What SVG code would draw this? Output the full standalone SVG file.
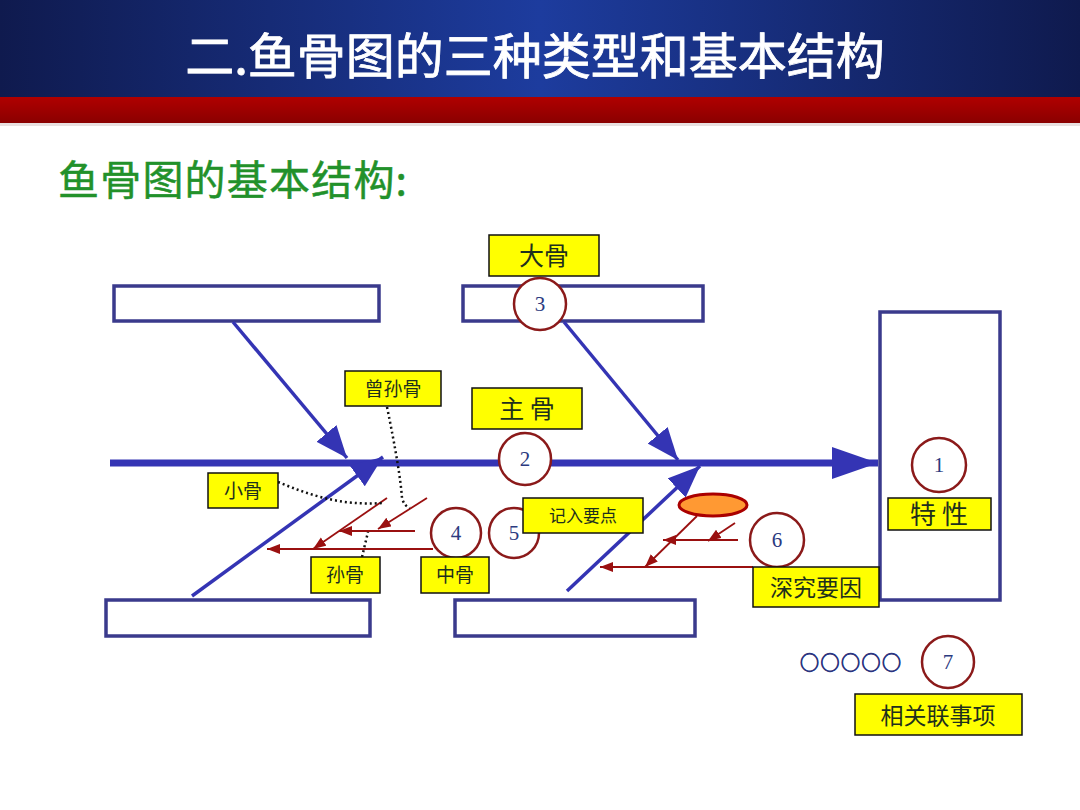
<svg xmlns="http://www.w3.org/2000/svg" width="1080" height="810" viewBox="0 0 1080 810">
<defs>
<linearGradient id="hdr" x1="0" y1="0" x2="1" y2="0">
<stop offset="0" stop-color="#0f1a4e"/>
<stop offset="0.5" stop-color="#1d3c9e"/>
<stop offset="1" stop-color="#0f1a4e"/>
</linearGradient>
<linearGradient id="red" x1="0" y1="0" x2="0" y2="1">
<stop offset="0" stop-color="#b00000"/>
<stop offset="1" stop-color="#8a0000"/>
</linearGradient>
<marker id="big" markerUnits="userSpaceOnUse" markerWidth="48" markerHeight="34" refX="46" refY="16" orient="auto">
<path d="M0,0 L46,16 L0,32 z" fill="#3434b4"/>
</marker>
<marker id="bone" markerUnits="userSpaceOnUse" markerWidth="34" markerHeight="28" refX="32" refY="13" orient="auto">
<path d="M0,0 L32,13 L0,26 z" fill="#3434b4"/>
</marker>
<marker id="sm" markerUnits="userSpaceOnUse" markerWidth="14" markerHeight="12" refX="13" refY="5" orient="auto">
<path d="M0,0 L13,5 L0,10 z" fill="#9a1010"/>
</marker>
<style>
.box{fill:#ffffff;stroke:#3a3a8c;stroke-width:3.5}
.spine{stroke:#3434b4;stroke-width:7;fill:none}
.bonel{stroke:#3434b4;stroke-width:3.5;fill:none}
.rl{stroke:#9a1010;stroke-width:1.8;fill:none}
.dot{stroke:#111;stroke-width:2.5;stroke-dasharray:2 3;fill:none}
.num{fill:#ffffff;stroke:#8b1a1a;stroke-width:2.5}
.numt{font-family:"Liberation Serif",serif;font-size:21px;fill:#2b3a80;text-anchor:middle}
.lab{fill:#ffff00;stroke:#111;stroke-width:1.5}
.labt{font-family:"Noto Sans CJK SC","Noto Sans",sans-serif;fill:#1e301d;text-anchor:middle}
</style>
</defs>
<rect x="0" y="0" width="1080" height="810" fill="#ffffff"/>
<g id="header">
<rect x="0" y="0" width="1080" height="98" fill="url(#hdr)"/>
<rect x="0" y="97" width="1080" height="26" fill="url(#red)"/>
<rect x="0" y="123" width="1080" height="3" fill="#e8e0e0"/>
<text x="535" y="74" font-family="'Noto Sans CJK SC',sans-serif" font-size="49" fill="#ffffff" stroke="#ffffff" stroke-width="0.8" text-anchor="middle">二.鱼骨图的三种类型和基本结构</text>
</g>
<g id="subtitle">
<text x="58" y="195" font-family="'Noto Sans CJK SC',sans-serif" font-size="41" letter-spacing="1.2" fill="#22912a" stroke="#22912a" stroke-width="0.5">鱼骨图的基本结构:</text>
</g>
<g id="boxes">
<rect id="box-tl" class="box" x="114" y="286" width="265" height="35"/>
<rect id="box-tm" class="box" x="463" y="286" width="240" height="35"/>
<rect id="box-bl" class="box" x="106" y="600" width="264" height="36"/>
<rect id="box-bm" class="box" x="455" y="600" width="240" height="36"/>
<rect id="box-r" class="box" x="880" y="312" width="120" height="288"/>
</g>
<g id="connectors">
<line class="spine" x1="110" y1="463" x2="878" y2="463" marker-end="url(#big)"/>
<line class="bonel" x1="233" y1="322" x2="347" y2="458" marker-end="url(#bone)"/>
<line class="bonel" x1="192" y1="596" x2="383" y2="457" marker-end="url(#bone)"/>
<line class="bonel" x1="564" y1="322" x2="678" y2="460" marker-end="url(#bone)"/>
<line class="bonel" x1="567" y1="591" x2="700" y2="466" marker-end="url(#bone)"/>
<line class="rl" x1="433" y1="549" x2="267" y2="549" marker-end="url(#sm)"/>
<line class="rl" x1="387" y1="498" x2="313" y2="549" marker-end="url(#sm)"/>
<line class="rl" x1="415" y1="531" x2="339" y2="531" marker-end="url(#sm)"/>
<line class="rl" x1="427" y1="498" x2="378" y2="529" marker-end="url(#sm)"/>
<line class="rl" x1="697" y1="516" x2="645" y2="567" marker-end="url(#sm)"/>
<line class="rl" x1="753" y1="567" x2="600" y2="567" marker-end="url(#sm)"/>
<line class="rl" x1="738" y1="540" x2="663" y2="540" marker-end="url(#sm)"/>
<line class="rl" x1="735" y1="523" x2="708" y2="541" marker-end="url(#sm)"/>
<path class="dot" d="M387,407 Q400,470 402,498 Q404,506 410,508"/>
<path class="dot" d="M278,482 C310,495 340,506 383,503"/>
<path class="dot" d="M362,557 L368,532"/>
</g>
<g id="ellipse">
<ellipse cx="713" cy="505" rx="34" ry="11" fill="#ff9933" stroke="#aa0000" stroke-width="3"/>
</g>
<g id="n1"><circle class="num" cx="939" cy="465" r="27"/><text class="numt" x="939" y="472">1</text></g>
<g id="n2"><circle class="num" cx="525" cy="459" r="26"/><text class="numt" x="525" y="466">2</text></g>
<g id="n3"><circle class="num" cx="540" cy="304" r="26"/><text class="numt" x="540" y="311">3</text></g>
<g id="n4"><circle class="num" cx="456" cy="533" r="25"/><text class="numt" x="456" y="540">4</text></g>
<g id="n5"><circle class="num" cx="514" cy="533" r="25"/><text class="numt" x="514" y="540">5</text></g>
<g id="n6"><circle class="num" cx="777" cy="540" r="27"/><text class="numt" x="777" y="547">6</text></g>
<g id="n7"><circle class="num" cx="948" cy="662" r="26"/><text class="numt" x="948" y="669">7</text></g>
<g id="dots"><text x="800" y="670" font-family="'Noto Sans CJK SC',sans-serif" font-size="19" letter-spacing="1.5" fill="#2b3580" stroke="#2b3580" stroke-width="0.9">○○○○○</text></g>
<g id="l-dagu"><rect class="lab" x="489" y="235" width="110" height="41"/><text class="labt" x="544" y="265" font-size="25">大骨</text></g>
<g id="l-zhugu"><rect class="lab" x="472" y="388" width="110" height="41"/><text class="labt" x="527" y="418" font-size="25">主 骨</text></g>
<g id="l-zengsun"><rect class="lab" x="345" y="371" width="96" height="35"/><text class="labt" x="393" y="396" font-size="19">曾孙骨</text></g>
<g id="l-xiaogu"><rect class="lab" x="208" y="473" width="70" height="35"/><text class="labt" x="243" y="498" font-size="19">小骨</text></g>
<g id="l-sungu"><rect class="lab" x="311" y="557" width="69" height="36"/><text class="labt" x="345" y="582" font-size="19">孙骨</text></g>
<g id="l-zhonggu"><rect class="lab" x="421" y="557" width="68" height="36"/><text class="labt" x="455" y="582" font-size="19">中骨</text></g>
<g id="l-jiru"><rect class="lab" x="523" y="498" width="120" height="35"/><text class="labt" x="583" y="522" font-size="17">记入要点</text></g>
<g id="l-texing"><rect class="lab" x="888" y="498" width="103" height="32"/><text class="labt" x="939" y="524" font-size="26">特 性</text></g>
<g id="l-shenjiu"><rect class="lab" x="753" y="567" width="126" height="40"/><text class="labt" x="816" y="596" font-size="23">深究要因</text></g>
<g id="l-xiangguan"><rect class="lab" x="855" y="694" width="167" height="41"/><text class="labt" x="938" y="724" font-size="23">相关联事项</text></g>
</svg>
